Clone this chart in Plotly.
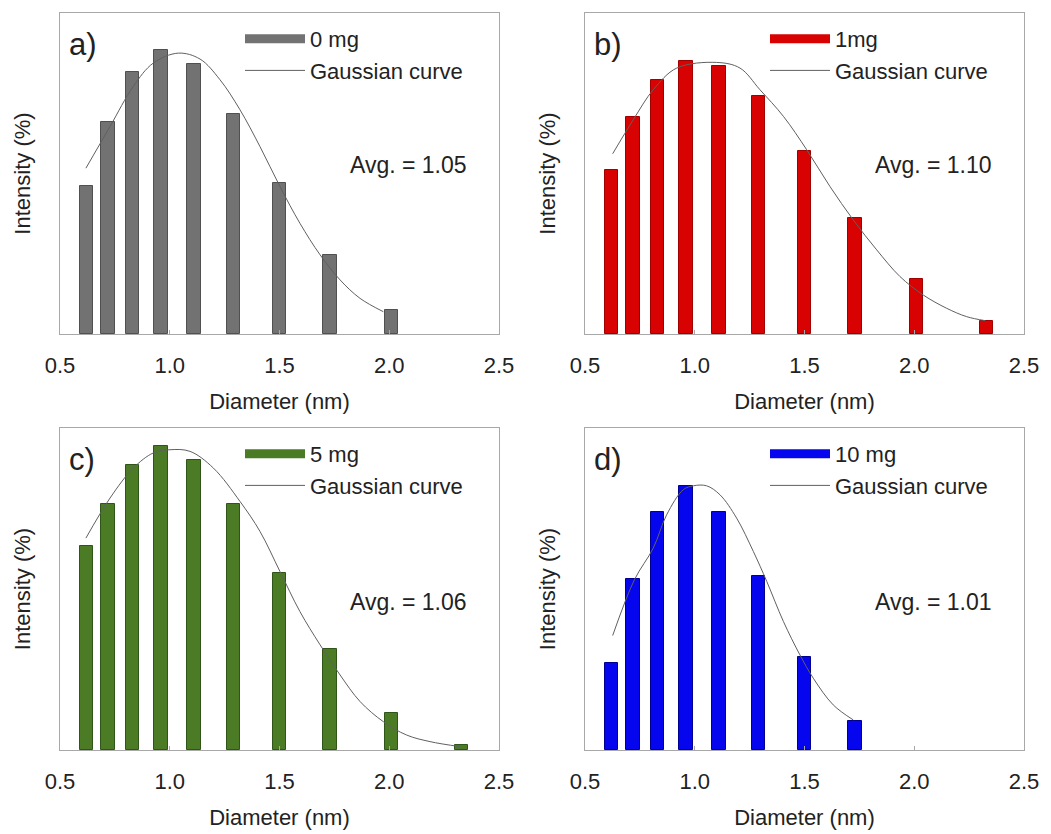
import plotly.graph_objects as go

# ---------------- data ----------------
diam = [0.62, 0.72, 0.83, 0.96, 1.11, 1.29, 1.50, 1.73, 2.01, 2.33]

int_0mg = [9.2, 13.2, 16.3, 17.7, 16.8, 13.7, 9.4, 4.9, 1.5]
int_1mg = [10.2, 13.5, 15.8, 17.0, 16.7, 14.8, 11.4, 7.2, 3.4, 0.8]
int_5mg = [12.7, 15.3, 17.7, 18.9, 18.0, 15.3, 11.0, 6.3, 2.3, 0.3]
int_10mg = [5.4, 10.6, 14.8, 16.4, 14.8, 10.8, 5.8, 1.8]

fit_0mg_x = [0.618, 0.728, 0.834, 0.925, 1.039, 1.138, 1.229, 1.320, 1.411, 1.502, 1.593, 1.685, 1.776, 1.867, 1.973]
fit_0mg_y = [10.33, 12.93, 15.43, 16.88, 17.50, 17.13, 15.84, 13.97, 11.68, 9.19, 6.90, 4.93, 3.37, 2.22, 1.39]

fit_1mg_x = [0.626, 0.720, 0.811, 0.918, 1.100, 1.206, 1.297, 1.404, 1.510, 1.616, 1.722, 1.829, 1.935, 2.041, 2.148, 2.239, 2.324]
fit_1mg_y = [11.23, 13.35, 15.22, 16.57, 16.92, 16.57, 15.22, 13.56, 11.48, 9.19, 7.11, 5.24, 3.58, 2.43, 1.60, 1.08, 0.83]

fit_5mg_x = [0.618, 0.728, 0.834, 0.925, 1.001, 1.092, 1.199, 1.320, 1.411, 1.502, 1.593, 1.685, 1.776, 1.867, 1.973, 2.079, 2.186, 2.322]
fit_5mg_y = [13.16, 15.65, 17.51, 18.45, 18.65, 18.55, 17.51, 15.44, 13.58, 11.09, 8.60, 6.53, 4.66, 3.01, 1.76, 0.93, 0.52, 0.21]

fit_10mg_x = [0.626, 0.725, 0.811, 0.872, 0.948, 0.994, 1.054, 1.115, 1.191, 1.267, 1.328, 1.404, 1.479, 1.540, 1.631, 1.722]
fit_10mg_y = [7.11, 10.57, 12.54, 14.61, 16.17, 16.41, 16.41, 15.85, 14.40, 12.33, 10.47, 7.98, 5.91, 4.46, 2.80, 1.87]

labels = ["a)", "b)", "c)", "d)"]
names = ["0 mg", "1mg", "5 mg", "10 mg"]
avgs = ["Avg. = 1.05", "Avg. = 1.10", "Avg. = 1.06", "Avg. = 1.01"]
x_ticks = [0.5, 1.0, 1.5, 2.0, 2.5]
x_ticktext = ["0.5", "1.0", "1.5", "2.0", "2.5"]

# ---------------- style ----------------
W, H = 1051, 834
FONT = "Liberation Sans, Arial, sans-serif"
TXT = "#222222"
fills = ["#727272", "#d80202", "#4b7b24", "#0505ee"]
edges = ["#505050", "#a00000", "#2f5518", "#000090"]
curve_col = "#606060"
frame_col = "#a8a8a8"

# panel pixel boxes: (left, right, top, bottom)
boxes = [(60, 499, 13, 334), (585, 1024, 13, 334), (60, 499, 428, 750), (585, 1024, 428, 750)]

def px(v):
    return v / W

def py(v):
    return 1 - v / H

data_sets = [
    (int_0mg, fit_0mg_x, fit_0mg_y),
    (int_1mg, fit_1mg_x, fit_1mg_y),
    (int_5mg, fit_5mg_x, fit_5mg_y),
    (int_10mg, fit_10mg_x, fit_10mg_y),
]

fig = go.Figure()
layout = dict(
    width=W, height=H,
    margin=dict(l=0, r=0, t=0, b=0, autoexpand=False),
    paper_bgcolor="white", plot_bgcolor="white",
    font=dict(family=FONT, color=TXT),
    bargap=0,
    hovermode=False,
    annotations=[],
)

for i in range(4):
    k = "" if i == 0 else str(i + 1)
    xa, ya = "x" + k, "y" + k
    leg = "legend" if i == 0 else "legend" + str(i + 1)
    vals, fx, fy = data_sets[i]
    L, R, T, B = boxes[i]

    fig.add_trace(go.Bar(
        x=diam[:len(vals)], y=vals, width=0.062,
        marker=dict(color=fills[i], line=dict(color=edges[i], width=1)),
        showlegend=False, xaxis=xa, yaxis=ya,
    ))
    # legend swatch for bars (thick line icon)
    fig.add_trace(go.Scatter(
        x=[None], y=[None], mode="lines", name=names[i],
        line=dict(color=fills[i], width=9),
        xaxis=xa, yaxis=ya, legend=leg,
    ))
    fig.add_trace(go.Scatter(
        x=fx, y=fy, mode="lines", name="Gaussian curve",
        line=dict(color=curve_col, width=1, shape="spline", smoothing=1.0),
        xaxis=xa, yaxis=ya, legend=leg,
    ))

    layout["xaxis" + k] = dict(
        domain=[px(L), px(R)], anchor=ya, range=[0.5, 2.5], automargin=False,
        tickvals=x_ticks, ticktext=x_ticktext,
        ticks="inside", ticklen=4, tickcolor=frame_col, ticklabelstandoff=12,
        showline=True, mirror=True, linecolor=frame_col, linewidth=1,
        showgrid=False, zeroline=False,
        tickfont=dict(size=22, color=TXT),
        title=dict(text="Diameter (nm)", font=dict(size=22, color=TXT), standoff=16),
    )
    layout["yaxis" + k] = dict(
        domain=[py(B), py(T)], anchor=xa, range=[0, 20], automargin=False,
        showticklabels=False, ticks="",
        showline=True, mirror=True, linecolor=frame_col, linewidth=1,
        showgrid=False, zeroline=False,
        title=dict(text="Intensity (%)", font=dict(size=22, color=TXT), standoff=22),
    )
    layout[leg] = dict(
        x=px(L + 180), y=py(T + 5), xanchor="left", yanchor="top",
        bgcolor="rgba(0,0,0,0)", borderwidth=0,
        font=dict(size=22, color=TXT, family=FONT),
        tracegroupgap=0, itemwidth=60,
    )
    layout["annotations"].append(dict(
        text=labels[i], x=px(L + 7), y=py(T + 31), xref="paper", yref="paper",
        xanchor="left", yanchor="middle", showarrow=False,
        font=dict(size=31, color=TXT, family=FONT),
    ))
    layout["annotations"].append(dict(
        text=avgs[i], x=px(L + 288), y=py(T + (152 if i < 2 else 174)), xref="paper", yref="paper",
        xanchor="left", yanchor="middle", showarrow=False,
        font=dict(size=23, color=TXT, family=FONT),
    ))

fig.update_layout(**layout)
fig.write_html("out.html", config={"displayModeBar": False},
               post_script="document.body.style.margin='0';")
